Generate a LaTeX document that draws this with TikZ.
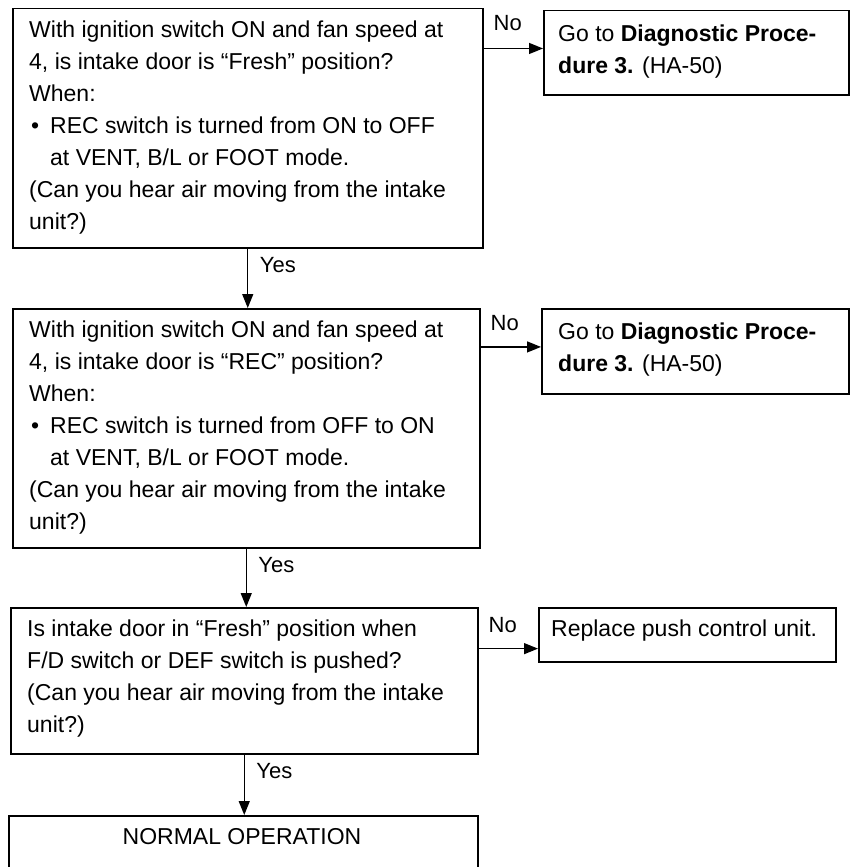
\documentclass[tikz,border=0pt]{standalone}
\usepackage{fontspec}
\setmainfont{Liberation Sans}
\usetikzlibrary{arrows.meta,calc}
\begin{document}
\begin{tikzpicture}[x=1pt,y=-1pt,
  box/.style={draw,line width=1.5pt,inner sep=0pt,anchor=north west},
  txt/.style={anchor=north west,inner sep=0pt,align=left,font=\fontsize{23}{32}\selectfont},
  lbl/.style={anchor=west,inner sep=0pt,font=\fontsize{22}{26}\selectfont},
  arr/.style={line width=1.3pt,-{Triangle[length=14pt,width=11pt]}}]
\useasboundingbox (0,0) rectangle (850,867);
\fill[white] (0,0) rectangle (850,867);
\clip (0,0) rectangle (850,867);

% boxes
\node[box,minimum width=470pt,minimum height=239pt] (b1) at (12,8) {};
\node[box,minimum width=305pt,minimum height=84pt] (g1) at (543,10) {};
\node[box,minimum width=467pt,minimum height=239pt] (b2) at (12,308) {};
\node[box,minimum width=307pt,minimum height=85pt] (g2) at (541,308) {};
\node[box,minimum width=467pt,minimum height=146pt] (b3) at (10,607) {};
\node[box,minimum width=297pt,minimum height=54pt] (r3) at (538,607) {};
\node[box,minimum width=469pt,minimum height=56pt] (b4) at (8,815) {};

% texts
\node[txt] (t1) at (29,21) {With ignition switch ON and fan speed at\\4, is intake door is “Fresh” position?\\When:\\\makebox[21pt][l]{\hspace{2pt}\textbullet}REC switch is turned from ON to OFF\\\hspace*{21pt}at VENT, B/L or FOOT mode.\\(Can you hear air moving from the intake\\unit?)};
\node[txt] (tg1) at (558,25) {Go to \textbf{Diagnostic Proce-}\\\textbf{dure 3.} (HA-50)};
\node[txt] (t2) at (29,321) {With ignition switch ON and fan speed at\\4, is intake door is “REC” position?\\When:\\\makebox[21pt][l]{\hspace{2pt}\textbullet}REC switch is turned from OFF to ON\\\hspace*{21pt}at VENT, B/L or FOOT mode.\\(Can you hear air moving from the intake\\unit?)};
\node[txt] (tg2) at (558,323) {Go to \textbf{Diagnostic Proce-}\\\textbf{dure 3.} (HA-50)};
\node[txt] (t3) at (27,620) {Is intake door in “Fresh” position when\\F/D switch or DEF switch is pushed?\\(Can you hear air moving from the intake\\unit?)};
\node[txt] (tr3) at (551,620) {Replace push control unit.};
\node[inner sep=0pt,font=\fontsize{23}{32}\selectfont] (t4) at (242,837) {NORMAL OPERATION};

% connectors
\coordinate (n1) at ($(g1.north west)!0.45!(g1.south west)$);
\coordinate (n2) at ($(g2.north west)!0.45!(g2.south west)$);
\coordinate (n3) at ($(r3.north west)!0.75!(r3.south west)$);
\draw[arr] (n1 -| b1.east) -- (n1);
\draw[arr] (n2 -| b2.east) -- (n2);
\draw[arr] (n3 -| b3.east) -- (n3);
\draw[arr] (b1.south) -- (b1.south |- b2.north);
\draw[arr] (b2.south) -- (b2.south |- b3.north);
\draw[arr] (b3.south) -- (b3.south |- b4.north);

% labels
\node[lbl] (no1) at ($(n1 -| b1.east)+(10,-25)$) {No};
\node[lbl] (no2) at ($(n2 -| b2.east)+(10,-24)$) {No};
\node[lbl] (no3) at ($(n3 -| b3.east)+(10,-24)$) {No};
\node[lbl] (yes1) at ($(b1.south)+(12,17)$) {Yes};
\node[lbl] (yes2) at ($(b2.south)+(12,17)$) {Yes};
\node[lbl] (yes3) at ($(b3.south)+(12,17)$) {Yes};
\end{tikzpicture}
\end{document}
